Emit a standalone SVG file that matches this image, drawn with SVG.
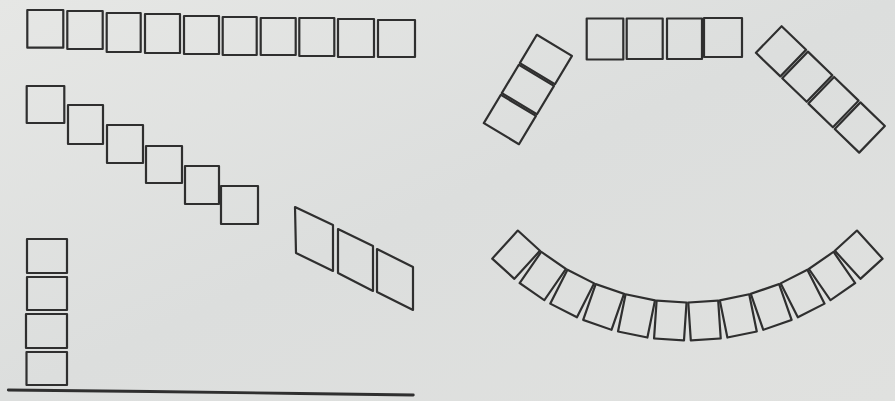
<svg xmlns="http://www.w3.org/2000/svg" width="895" height="401" viewBox="0 0 895 401">
  <defs>
    <style>
      .sq { fill: none; stroke: #2f2f2f; stroke-width: 2.2; stroke-linejoin: round; }
      .base { fill: none; stroke: #2f2f2f; stroke-width: 2.8; stroke-linecap: round; }
    </style>
    <linearGradient id="paper" x1="0" y1="0" x2="1" y2="1">
      <stop offset="0" stop-color="#e6e7e5"/>
      <stop offset="0.5" stop-color="#dcdedd"/>
      <stop offset="1" stop-color="#e0e1df"/>
    </linearGradient>
  </defs>
  <rect x="0" y="0" width="895" height="401" fill="url(#paper)"/>

  <g id="row-top">
    <rect class="sq" x="27.3" y="10" width="36" height="37.7"/>
    <rect class="sq" x="67.3" y="11" width="35.4" height="38"/>
    <rect class="sq" x="106.7" y="13" width="34" height="39"/>
    <rect class="sq" x="145" y="14" width="35" height="39"/>
    <rect class="sq" x="184" y="16" width="35" height="38"/>
    <rect class="sq" x="222.7" y="17" width="34" height="38"/>
    <rect class="sq" x="260.7" y="18" width="35" height="37"/>
    <rect class="sq" x="299.3" y="18" width="35" height="38"/>
    <rect class="sq" x="338" y="19" width="36" height="38"/>
    <rect class="sq" x="378" y="20" width="37" height="37"/>
  </g>

  <g id="staircase">
    <rect class="sq" x="26.7" y="86" width="37.6" height="37"/>
    <rect class="sq" x="68" y="105" width="35" height="39"/>
    <rect class="sq" x="107" y="125" width="36" height="38"/>
    <rect class="sq" x="146" y="146" width="36" height="37"/>
    <rect class="sq" x="185" y="166" width="34" height="38"/>
    <rect class="sq" x="221" y="186" width="37" height="38"/>
  </g>

  <g id="stack-vertical">
    <rect class="sq" x="27" y="239" width="40" height="34"/>
    <rect class="sq" x="27" y="277" width="40" height="33"/>
    <rect class="sq" x="26" y="314" width="41" height="34"/>
    <rect class="sq" x="26.5" y="352" width="40.5" height="33"/>
    <path class="base" d="M8.3 390 L150 391.5 L300 393.5 L413.3 395"/>
  </g>

  <g id="parallelograms">
    <polygon class="sq" points="295,207 333,225 333,271 296,253"/>
    <polygon class="sq" points="338,229 373,246 373,291 338,273"/>
    <polygon class="sq" points="377,249 413,267 413,310 377,292"/>
  </g>

  <g id="row-top-right">
    <rect class="sq" x="586.7" y="18.5" width="36.6" height="41"/>
    <rect class="sq" x="626.7" y="18.5" width="36" height="40.5"/>
    <rect class="sq" x="667" y="18.5" width="35" height="40.5"/>
    <rect class="sq" x="704" y="18" width="38" height="39"/>
  </g>

  <g id="stack-tilted-left">
    <rect class="sq" x="-20.5" y="-16.5" width="41" height="33" transform="translate(545.9 59.5) rotate(31)"/>
    <rect class="sq" x="-20.5" y="-16.5" width="41" height="33" transform="translate(527.9 89.5) rotate(31)"/>
    <rect class="sq" x="-20.5" y="-16.5" width="41" height="33" transform="translate(509.9 119.5) rotate(31)"/>
  </g>

  <g id="stack-tilted-right">
    <rect class="sq" x="-18.5" y="-17" width="37" height="34" transform="translate(781 51.3) rotate(-46)"/>
    <rect class="sq" x="-18.5" y="-17" width="37" height="34" transform="translate(807.3 76.7) rotate(-46)"/>
    <rect class="sq" x="-18.5" y="-17" width="37" height="34" transform="translate(833.5 102.1) rotate(-46)"/>
    <rect class="sq" x="-18.5" y="-17" width="37" height="34" transform="translate(859.8 127.5) rotate(-46)"/>
  </g>

  <g id="arc">
    <rect class="sq" x="-15" y="-19" width="30" height="38" transform="translate(516.1 254.7) rotate(42.35)"/>
    <rect class="sq" x="-15" y="-19" width="30" height="38" transform="translate(542.8 276.0) rotate(34.65)"/>
    <rect class="sq" x="-15" y="-19" width="30" height="38" transform="translate(572.2 293.5) rotate(26.95)"/>
    <rect class="sq" x="-15" y="-19" width="30" height="38" transform="translate(603.6 306.9) rotate(19.25)"/>
    <rect class="sq" x="-15" y="-19" width="30" height="38" transform="translate(636.5 315.9) rotate(11.55)"/>
    <rect class="sq" x="-15" y="-19" width="30" height="38" transform="translate(670.3 320.5) rotate(3.85)"/>
    <rect class="sq" x="-15" y="-19" width="30" height="38" transform="translate(704.5 320.5) rotate(-3.85)"/>
    <rect class="sq" x="-15" y="-19" width="30" height="38" transform="translate(738.3 315.9) rotate(-11.55)"/>
    <rect class="sq" x="-15" y="-19" width="30" height="38" transform="translate(771.2 306.9) rotate(-19.25)"/>
    <rect class="sq" x="-15" y="-19" width="30" height="38" transform="translate(802.6 293.5) rotate(-26.95)"/>
    <rect class="sq" x="-15" y="-19" width="30" height="38" transform="translate(832.0 276.0) rotate(-34.65)"/>
    <rect class="sq" x="-15" y="-19" width="30" height="38" transform="translate(858.7 254.7) rotate(-42.35)"/>
  </g>
</svg>
